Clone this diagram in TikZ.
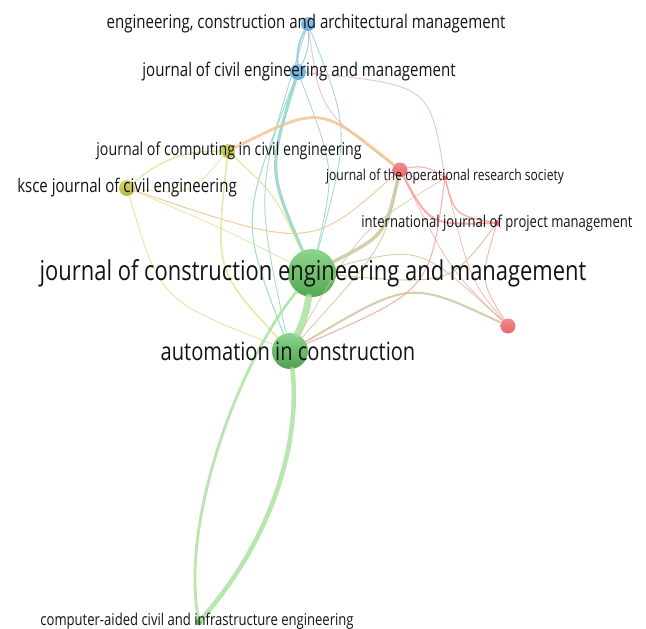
\documentclass[tikz,border=0pt]{standalone}
\usepackage{fontspec}
\usepackage{xcolor}
\usepackage{graphicx}
\usepackage{tikz}
\setmainfont{Open Sans}
\usetikzlibrary{calc}

\definecolor{vgreen}{RGB}{79,190,79}
\definecolor{vblue}{RGB}{84,162,216}
\definecolor{vyellow}{RGB}{198,198,60}
\definecolor{vred}{RGB}{234,86,90}
\definecolor{lgreen}{RGB}{165,225,155}
\definecolor{lteal}{RGB}{140,208,200}
\definecolor{lblue}{RGB}{140,196,232}
\definecolor{lyellow}{RGB}{218,230,145}
\definecolor{lorange}{RGB}{242,192,140}
\definecolor{lred}{RGB}{244,158,150}
\definecolor{lolive}{RGB}{200,196,150}
\definecolor{lpink}{RGB}{225,180,190}
\definecolor{ink}{RGB}{20,20,20}

\newcommand{\cond}[1]{\scalebox{0.8}[1]{#1}}

\begin{document}
\begin{tikzpicture}[x=0.02cm, y=-0.02cm,
  journal/.style={circle, inner sep=0pt, opacity=0.92},
  lbl/.style={inner sep=0pt, text=ink},
  link/.style={line cap=round, opacity=0.8}]
  \useasboundingbox (0,0) rectangle (646,629);

  % journals
  \node[journal, top color=vblue!70!white, bottom color=vblue, minimum size=0.28cm] (ecam) at (308,24) {};
  \node[journal, top color=vblue!70!white, bottom color=vblue, minimum size=0.32cm] (civil) at (298,72) {};
  \node[journal, top color=vyellow!80!white, bottom color=vyellow!90!black, minimum size=0.28cm] (jcce) at (228,151) {};
  \node[journal, top color=vyellow!80!white, bottom color=vyellow!90!black, minimum size=0.32cm] (ksce) at (127,188) {};
  \node[journal, top color=vred!75!white, bottom color=vred, minimum size=0.3cm] (jors) at (400,170) {};
  \node[journal, fill=vred, minimum size=0.1cm] (orsoc) at (445,178) {};
  \node[journal, fill=vred, minimum size=0.12cm] (ijpm) at (497,223) {};
  \node[journal, top color=vred!75!white, bottom color=vred, minimum size=0.3cm] (ijpmb) at (508,326) {};
  \node[journal, top color=vgreen!70!white, bottom color=vgreen!85!black, minimum size=0.96cm] (jcem) at (312,273) {};
  \node[journal, top color=vgreen!70!white, bottom color=vgreen!80!black, minimum size=0.72cm] (aic) at (290,351) {};
  \node[journal, fill=vgreen, minimum size=0.14cm] (cacie) at (199,622) {};

  % links
  \draw[link, lblue, line width=1.2pt] (ecam) to[bend right=15] (civil);
  \draw[link, lblue, line width=0.6pt] (ecam) to[bend left=15] (civil);
  \draw[link, lteal, line width=0.5pt] (ecam) .. controls (350,130) .. (jcem);
  \draw[link, lteal, line width=0.5pt] (ecam) .. controls (255,190) .. (aic);
  \draw[link, lteal, line width=0.6pt] (civil) .. controls (240,220) .. (aic);
  \draw[link, lteal, line width=1.8pt] (civil) .. controls (268,170) .. (jcem);
  \draw[link, lteal, line width=0.5pt] (civil) .. controls (335,170) .. (jcem);
  \draw[link, lpink, line width=0.5pt] (civil) .. controls (430,85) .. (orsoc);
  \draw[link, lpink, line width=0.5pt] (ecam) .. controls (320,110) .. (jors);

  \draw[link, lyellow, line width=0.8pt] (jcce) to[bend right=20] (ksce);
  \draw[link, lyellow, line width=0.5pt] (ksce) .. controls (190,195) .. (jcce);
  \draw[link, lorange, line width=1.6pt] (jcce) .. controls (320,105) .. (jors);
  \draw[link, lorange, line width=0.6pt] (ksce) .. controls (310,250) .. (jors);
  \draw[link, lyellow, line width=0.7pt] (jcce) .. controls (275,195) .. (jcem);
  \draw[link, lyellow, line width=0.9pt] (jcce) .. controls (215,270) .. (aic);
  \draw[link, lyellow, line width=0.5pt] (ksce) .. controls (215,225) .. (jcem);
  \draw[link, lyellow, line width=0.6pt] (ksce) .. controls (160,300) .. (aic);

  \draw[link, lgreen, line width=4pt] (jcem) to[bend left=8] (aic);
  \draw[link, lgreen, line width=2.6pt] (aic) .. controls (300,430) and (280,530) .. (cacie);
  \draw[link, lgreen, line width=1.6pt] (jcem) .. controls (240,360) and (180,520) .. (cacie);

  \draw[link, lolive, line width=2pt] (jcem) .. controls (385,235) .. (jors);
  \draw[link, lolive, line width=0.6pt] (jcem) .. controls (450,285) .. (ijpm);
  \draw[link, lolive, line width=0.5pt] (jcem) .. controls (420,245) .. (ijpmb);
  \draw[link, lolive, line width=1.2pt] (aic) .. controls (410,280) .. (ijpmb);
  \draw[link, lolive, line width=0.5pt] (aic) .. controls (385,245) .. (jors);
  \draw[link, lred, line width=0.6pt] (aic) .. controls (430,290) .. (orsoc);
  \draw[link, lolive, line width=0.4pt] (aic) .. controls (360,230) .. (orsoc);

  \draw[link, lred, line width=0.6pt] (jors) to[bend left=25] (orsoc);
  \draw[link, lred, line width=0.4pt] (jors) to[bend right=20] (orsoc);
  \draw[link, lred, line width=1.2pt] (jors) .. controls (430,225) .. (ijpm);
  \draw[link, lred, line width=0.8pt] (orsoc) .. controls (455,215) .. (ijpm);
  \draw[link, lred, line width=0.4pt] (jors) .. controls (450,270) .. (ijpmb);
  \draw[link, lred, line width=0.4pt] (orsoc) .. controls (470,280) .. (ijpmb);
  \draw[link, lred, line width=0.5pt] (ijpm) .. controls (480,280) .. (ijpmb);

  % labels
  \node[lbl, font=\fontsize{10.7}{12}\selectfont] (ecam-l) at (306,24) {\cond{engineering, construction and architectural management}};
  \node[lbl, font=\fontsize{10.7}{12}\selectfont] (civil-l) at (299,72) {\cond{journal of civil engineering and management}};
  \node[lbl, font=\fontsize{10.1}{11}\selectfont] (jcce-l) at (229,151) {\cond{journal of computing in civil engineering}};
  \node[lbl, font=\fontsize{10.7}{11}\selectfont] (ksce-l) at (127,188) {\cond{ksce journal of civil engineering}};
  \node[lbl, font=\fontsize{8.6}{9}\selectfont] (orsoc-l) at (445,177) {\cond{journal of the operational research society}};
  \node[lbl, font=\fontsize{9.3}{10}\selectfont] (ijpm-l) at (497,223) {\cond{international journal of project management}};
  \node[lbl, font=\fontsize{15.6}{17}\selectfont] (jcem-l) at (313,273) {\cond{journal of construction engineering and management}};
  \node[lbl, font=\fontsize{14.3}{15}\selectfont] (aic-l) at (288,351) {\cond{automation in construction}};
  \node[lbl, font=\fontsize{9.3}{10}\selectfont] (cacie-l) at (197,621) {\cond{computer-aided civil and infrastructure engineering}};
\end{tikzpicture}
\end{document}
